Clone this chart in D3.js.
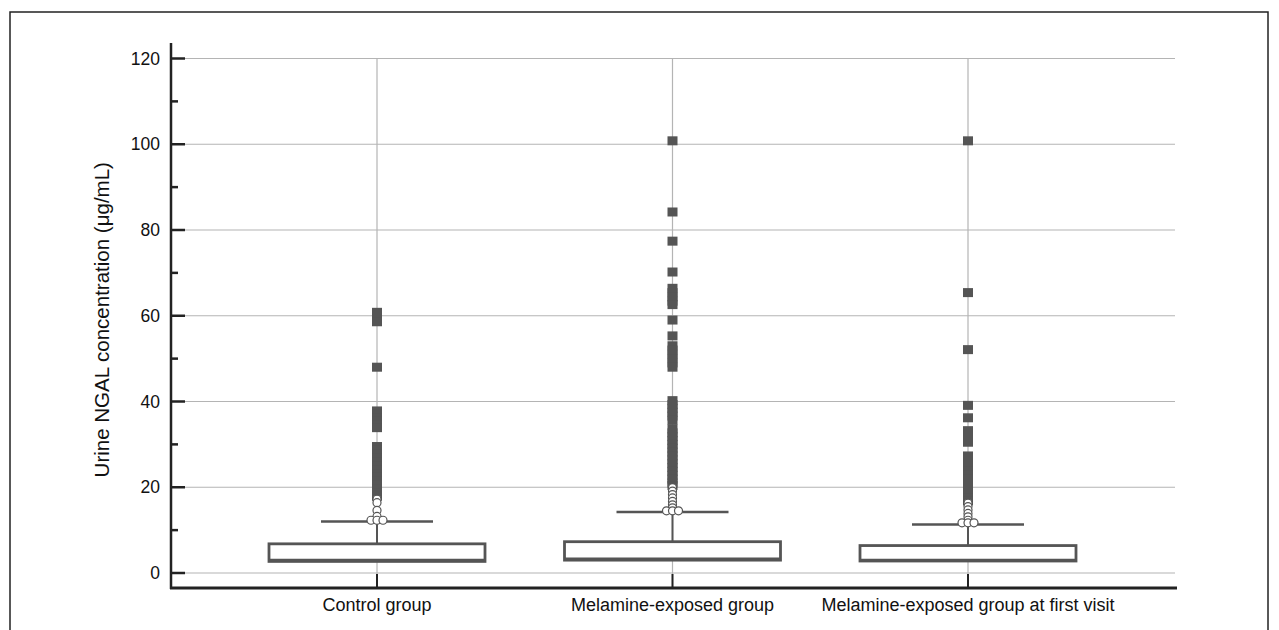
<!DOCTYPE html>
<html>
<head>
<meta charset="utf-8">
<script src="https://cdn.jsdelivr.net/npm/d3@7"></script>
<style>
  body { margin: 0; background: #fff; }
  svg { display: block; font-family: "Liberation Sans", Arial, sans-serif; }
</style>
</head>
<body>
<svg id="chart" width="1279" height="630"></svg>
<script>
// categorie
var groups = ["Control group", "Melamine-exposed group", "Melamine-exposed group at first visit"];

// quartili, mediana, baffo superiore
var q1 = [2.7, 3.0, 2.8];
var median = [3.0, 3.3, 3.0];
var q3 = [6.8, 7.3, 6.4];
var upperWhisker = [12.0, 14.2, 11.3];

// valori anomali estremi (quadrati)
var extremeOut = [
  [60.8, 59.6, 58.6, 48.0, 37.8, 37.0, 36.2, 35.4, 34.6, 33.9,
   29.5, 28.6, 27.7, 26.8, 25.9, 25.0, 24.1, 23.2, 22.3, 21.4, 20.5, 19.6, 18.7, 17.9],
  [100.8, 84.2, 77.4, 70.2, 66.4, 65.4, 64.4, 63.4, 62.6, 59.0, 55.3, 53.0, 52.0, 51.0, 50.0, 49.0, 48.0,
   40.2, 39.3, 38.4, 37.5, 36.6, 35.6,
   33.6, 32.7, 31.8, 30.9, 30.0, 29.1, 28.2, 27.3, 26.4, 25.5, 24.6, 23.7, 22.8, 21.9, 21.0, 20.4],
  [100.8, 65.4, 52.1, 39.1, 36.2, 33.2, 32.3, 31.4, 30.5,
   27.3, 26.4, 25.5, 24.6, 23.7, 22.8, 21.9, 21.0, 20.1, 19.2, 18.3, 17.4, 16.8]
];

// valori anomali lievi (cerchi)
var mildOut = [
  [17.2, 16.4, 14.6, 13.2, 12.3, 12.3, 12.3],
  [19.9, 19.1, 18.3, 17.5, 16.7, 15.9, 15.2, 14.5, 14.5, 14.5],
  [16.3, 15.5, 14.7, 13.9, 13.1, 12.3, 11.7, 11.7, 11.7]
];

var yTicks = [0, 20, 40, 60, 80, 100, 120];

var svg = d3.select("#chart");

// cornice esterna
svg.append("rect")
  .attr("x", 10).attr("y", 12)
  .attr("width", 1258).attr("height", 640)
  .attr("fill", "none").attr("stroke", "#222").attr("stroke-width", 1.5);

var x0 = 171, x1 = 1177, axisY = 588;

var y = d3.scaleLinear().domain([0, 120]).range([573, 58.5]);
var x = d3.scalePoint().domain(groups).range([377, 968]);

var boxW = 216, capW = 112;

// griglia orizzontale
svg.append("g").selectAll("line")
  .data(yTicks).enter().append("line")
  .attr("x1", x0).attr("x2", 1175)
  .attr("y1", function(d) { return y(d); })
  .attr("y2", function(d) { return y(d); })
  .attr("stroke", "#b4b4b4").attr("stroke-width", 1.2);

// griglia verticale
svg.append("g").selectAll("line")
  .data(groups).enter().append("line")
  .attr("x1", function(d) { return x(d); })
  .attr("x2", function(d) { return x(d); })
  .attr("y1", y(120)).attr("y2", axisY)
  .attr("stroke", "#b4b4b4").attr("stroke-width", 1.2);

var boxCol = "#555";

var g = svg.append("g").selectAll("g")
  .data(groups).enter().append("g");

// baffi
g.append("line")
  .attr("x1", function(d) { return x(d); })
  .attr("x2", function(d) { return x(d); })
  .attr("y1", function(d, i) { return y(q3[i]); })
  .attr("y2", function(d, i) { return y(upperWhisker[i]); })
  .attr("stroke", boxCol).attr("stroke-width", 2);

g.append("line")
  .attr("x1", function(d) { return x(d) - capW / 2; })
  .attr("x2", function(d) { return x(d) + capW / 2; })
  .attr("y1", function(d, i) { return y(upperWhisker[i]); })
  .attr("y2", function(d, i) { return y(upperWhisker[i]); })
  .attr("stroke", boxCol).attr("stroke-width", 2.5);

// scatole
g.append("rect")
  .attr("x", function(d) { return x(d) - boxW / 2; })
  .attr("y", function(d, i) { return y(q3[i]); })
  .attr("width", boxW)
  .attr("height", function(d, i) { return y(q1[i]) - y(q3[i]); })
  .attr("fill", "#fff").attr("stroke", boxCol).attr("stroke-width", 2.8);

g.append("line")
  .attr("x1", function(d) { return x(d) - boxW / 2; })
  .attr("x2", function(d) { return x(d) + boxW / 2; })
  .attr("y1", function(d, i) { return y(median[i]); })
  .attr("y2", function(d, i) { return y(median[i]); })
  .attr("stroke", boxCol).attr("stroke-width", 2.8);

// quadrati
g.each(function(d, i) {
  d3.select(this).selectAll("rect.out")
    .data(extremeOut[i]).enter().append("rect")
    .attr("class", "out")
    .attr("x", x(d) - 5)
    .attr("y", function(v) { return y(v) - 4.5; })
    .attr("width", 10).attr("height", 9)
    .attr("fill", boxCol);
});

// cerchi, con spostamento orizzontale per valori uguali
g.each(function(d, i) {
  var counts = {}, idx = {};
  mildOut[i].forEach(function(v) { counts[v] = (counts[v] || 0) + 1; });
  var pts = mildOut[i].map(function(v) {
    idx[v] = (idx[v] || 0);
    var off = (idx[v] - (counts[v] - 1) / 2) * 6;
    idx[v]++;
    return { v: v, off: off };
  });
  d3.select(this).selectAll("circle")
    .data(pts).enter().append("circle")
    .attr("cx", function(p) { return x(d) + p.off; })
    .attr("cy", function(p) { return y(p.v); })
    .attr("r", 4)
    .attr("fill", "#fff").attr("stroke", boxCol).attr("stroke-width", 1.2);
});

// asse y
svg.append("line")
  .attr("x1", x0).attr("x2", x0).attr("y1", 43).attr("y2", axisY + 1)
  .attr("stroke", "#222").attr("stroke-width", 2.5);

svg.append("g").selectAll("line")
  .data(d3.range(0, 121, 10)).enter().append("line")
  .attr("x1", x0)
  .attr("x2", function(d) { return d % 20 === 0 ? x0 + 14 : x0 + 7; })
  .attr("y1", function(d) { return y(d); })
  .attr("y2", function(d) { return y(d); })
  .attr("stroke", "#222").attr("stroke-width", 2.5);

svg.append("g").selectAll("text")
  .data(yTicks).enter().append("text")
  .attr("x", 160)
  .attr("y", function(d) { return y(d); })
  .attr("dy", "0.35em")
  .attr("text-anchor", "end")
  .attr("font-size", 17.5)
  .attr("fill", "#111")
  .text(function(d) { return d; });

// asse x
svg.append("line")
  .attr("x1", x0 - 1).attr("x2", x1).attr("y1", axisY).attr("y2", axisY)
  .attr("stroke", "#222").attr("stroke-width", 3);

svg.append("g").selectAll("line")
  .data(groups).enter().append("line")
  .attr("x1", function(d) { return x(d); })
  .attr("x2", function(d) { return x(d); })
  .attr("y1", axisY).attr("y2", axisY - 14)
  .attr("stroke", "#222").attr("stroke-width", 2);

svg.append("g").selectAll("text")
  .data(groups).enter().append("text")
  .attr("x", function(d) { return x(d); })
  .attr("y", 611)
  .attr("text-anchor", "middle")
  .attr("font-size", 18)
  .attr("fill", "#111")
  .text(function(d) { return d; });

// titolo asse y
svg.append("text")
  .attr("transform", "translate(109," + ((y(0) + y(120)) / 2 + 4) + ") rotate(-90)")
  .attr("text-anchor", "middle")
  .attr("font-size", 20.5)
  .attr("fill", "#111")
  .text("Urine NGAL concentration (μg/mL)");
</script>
</body>
</html>
